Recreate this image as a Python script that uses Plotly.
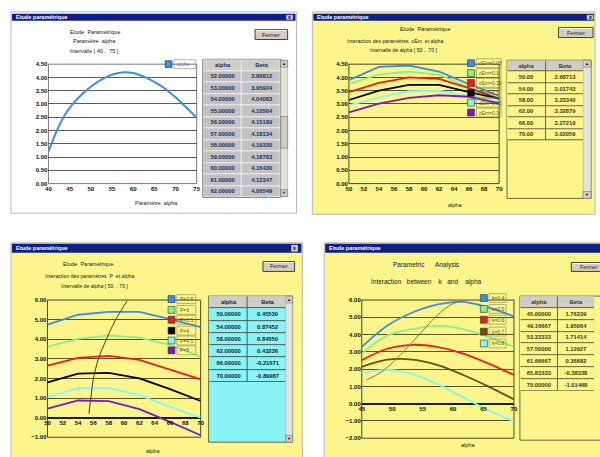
import plotly.graph_objects as go

W, H = 600, 457
FONT = "Liberation Sans"

# ---------------- DATA ----------------
# Panel 1 : Etude paramétrique, paramètre alpha [40..75]
p1_alpha = [40, 42, 44, 46, 48, 50, 52, 53, 54, 55, 56, 57, 58, 59, 60, 61, 62, 64, 66, 68, 70, 72, 75]
p1_beta = [1.20, 2.00, 2.62, 3.05, 3.38, 3.65, 3.86812, 3.95924, 4.04083, 4.10504, 4.15189, 4.18134,
           4.19330, 4.18763, 4.16430, 4.12347, 4.06549, 3.92, 3.74, 3.52, 3.25, 2.95, 2.48]
p1_xticks = [40, 45, 50, 55, 60, 65, 70, 75]
p1_table_alpha = [52, 53, 54, 55, 56, 57, 58, 59, 60, 61, 62]
p1_table_beta = [3.86812, 3.95924, 4.04083, 4.10504, 4.15189, 4.18134, 4.19330, 4.18763, 4.16430, 4.12347, 4.06549]

# Panel 2 : interaction cEm / alpha
p2_alpha = [50, 54, 58, 62, 66, 70]
p2_names = ["cEm=0.05", "cEm=0.1", "cEm=0.15", "cEm=0.2", "cEm=0.25", "cEm=0.3"]
p2_series = [
    [3.90, 4.40, 4.45, 4.22, 3.75, 3.30],
    [3.75, 4.12, 4.22, 4.10, 3.62, 3.20],
    [3.45, 3.80, 4.00, 3.95, 3.60, 3.20],
    [3.15, 3.50, 3.72, 3.72, 3.45, 3.20],
    [2.95, 3.25, 3.48, 3.50, 3.30, 3.10],
    [2.68713, 3.01743, 3.23340, 3.32879, 3.27219, 3.02059],
]
p2_xticks = [50, 52, 54, 56, 58, 60, 62, 64, 66, 68, 70]
p2_table_alpha = [50, 54, 58, 62, 66, 70]
p2_table_beta = [2.68713, 3.01743, 3.23340, 3.32879, 3.27219, 3.02059]

# Panel 3 : interaction P / alpha
p3_alpha = [50, 54, 58, 62, 66, 70]
p3_names = ["P=2.5", "P=3", "P=3.5", "P=4", "P=4.5", "P=5"]
p3_series = [
    [4.75, 5.25, 5.40, 5.40, 5.03, 4.62],
    [3.62, 4.02, 4.20, 4.08, 3.70, 3.12],
    [2.65, 3.05, 3.15, 2.95, 2.45, 1.95],
    [1.80, 2.25, 2.28, 2.00, 1.45, 0.85],
    [1.05, 1.50, 1.50, 1.15, 0.55, 0.00],
    [0.45530, 0.87452, 0.84550, 0.43236, -0.21671, -0.89987],
]
p3_locus_x = [55.4, 55.7, 56.0, 56.65, 57.7, 58.9, 60.4]
p3_locus_y = [0.2, 1.1, 2.0, 3.0, 4.0, 5.0, 5.95]
p3_xticks = [50, 52, 54, 56, 58, 60, 62, 64, 66, 68, 70]
p3_table_alpha = [50, 54, 58, 62, 66, 70]
p3_table_beta = [0.45530, 0.87452, 0.84550, 0.43236, -0.21671, -0.89987]

# Panel 4 : interaction k / alpha
p4_alpha = [45, 49.16667, 53.33333, 57.5, 61.66667, 65.83333, 70]
p4_names = ["k=0.4", "k=0.5", "k=0.6", "k=0.7", "k=0.8"]
p4_series = [
    [3.28, 4.51, 5.28, 5.75, 5.89, 5.56, 5.05],
    [2.90, 3.94, 4.32, 4.51, 4.32, 3.85, 3.28],
    [2.51, 3.18, 3.41, 3.28, 2.90, 2.32, 1.66],
    [2.13, 2.55, 2.55, 2.23, 1.66, 0.99, 0.25],
    [1.76239, 1.95064, 1.71414, 1.12927, 0.36682, -0.38338, -1.01468],
]
p4_locus_x = [45.8, 48.3, 51.0, 53.8, 56.5, 59.3, 61.6]
p4_locus_y = [1.37, 1.85, 2.7, 3.75, 4.8, 5.66, 6.0]
p4_xticks = [45, 50, 55, 60, 65, 70]
p4_table_alpha = [45, 49.16667, 53.33333, 57.5, 61.66667, 65.83333, 70]
p4_table_beta = [1.76239, 1.95064, 1.71414, 1.12927, 0.36682, -0.38338, -1.01468]

table_header = ["alpha", "Beta"]

# ---------------- STYLE ----------------
BLUE = "#3a8ee6"
GREEN = "#86f08a"
RED = "#f01c1c"
BLACK = "#000000"
CYAN = "#86f6f0"
PURPLE = "#7a18c8"
BROWN = "#7a4808"
YELLOW = "#fbf58c"
CYAN_BG = "#8af4f4"
NAVY = "#0e2088"
GRAYBTN = "#d0cdc4"
GRID_Y = "#56522a"

p2_colors = [BLUE, GREEN, RED, BLACK, CYAN, PURPLE]
p3_colors = [BLUE, GREEN, RED, BLACK, CYAN, PURPLE]
p4_colors = [BLUE, GREEN, RED, BROWN, CYAN]


def X(px):
    return min(max(px / W, 0), 1)


def Y(py):
    return min(max(1 - py / H, 0), 1)


shapes = []
annotations = []


def rect(x0, y0, x1, y1, fill="rgba(0,0,0,0)", line=None, lw=1, layer="below"):
    shapes.append(dict(type="rect", xref="paper", yref="paper", x0=x0 / W, x1=x1 / W, y0=1 - y1 / H, y1=1 - y0 / H,
                       fillcolor=fill, line=dict(color=line or "rgba(0,0,0,0)", width=lw if line else 0),
                       layer=layer))


def hline(x0, x1, y, color, lw=1, layer="below"):
    shapes.append(dict(type="line", xref="paper", yref="paper", x0=x0 / W, x1=x1 / W, y0=1 - y / H, y1=1 - y / H,
                       line=dict(color=color, width=lw), layer=layer))


def text(x, y, s, size=6, color="#202020", anchor="center", bold=False, fam=FONT):
    annotations.append(dict(xref="paper", yref="paper", x=x / W, y=1 - y / H, text=s, showarrow=False,
                            xanchor=anchor, yanchor="middle",
                            font=dict(size=size, color=color, family=fam, weight="bold" if bold else "normal")))


def window(x0, y0, x1, y1, bg, tb_y0, tb_y1, close_x=None):
    rect(x0, y0, x1, y1, fill=bg, line="#b8b8b8", lw=1)
    rect(x0 + 1, tb_y0, x1 - 1, tb_y1, fill=NAVY)
    text(x0 + 3, (tb_y0 + tb_y1) / 2, "Etude paramétrique", size=5.5, color="white", anchor="left", bold=True)
    if close_x is not None:
        rect(close_x, tb_y0 + 1.5, close_x + 6, tb_y1 - 1.5, fill="#c8c8c8", line="#ffffff", lw=0.5)
        text(close_x + 3, (tb_y0 + tb_y1) / 2, "x", size=5, color="#000", bold=True)


def button(x0, y0, x1, y1):
    rect(x0, y0, x1, y1, fill=GRAYBTN, line="#404040", lw=1)
    hline(x0 + 1, x1 - 1, y0 + 1, "#ffffff", 1)
    text((x0 + x1) / 2, (y0 + y1) / 2, "Fermer", size=5.5, color="#202020")


def scrollbar(x0, y0, x1, y1, thumb=None):
    rect(x0, y0, x1, y1, fill="#e4e2dc", line="#9a9a9a", lw=0.5)
    rect(x0, y0, x1, y0 + 7, fill=GRAYBTN, line="#606060", lw=0.5)
    rect(x0, y1 - 7, x1, y1, fill=GRAYBTN, line="#606060", lw=0.5)
    text((x0 + x1) / 2, y0 + 3.5, "▲", size=4, color="#000")
    text((x0 + x1) / 2, y1 - 3.5, "▼", size=4, color="#000")
    if thumb:
        rect(x0, thumb[0], x1, thumb[1], fill=GRAYBTN, line="#606060", lw=0.5)


def legend(xsq, ys, names, colors, label_w, color="#5a5a20"):
    for yy, nm, c in zip(ys, names, colors):
        rect(xsq + 9, yy - 4.5, xsq + 9 + label_w, yy + 4.5, fill="rgba(0,0,0,0)", line="#8a8650", lw=0.6,
             layer="above")
        rect(xsq, yy - 3.5, xsq + 7, yy + 3.5, fill=c, line="#303030", lw=0.6, layer="above")
        text(xsq + 10, yy, nm, size=5, color=color, anchor="left")


# ---------------- WINDOWS ----------------
window(8, 9, 297, 213, "#ffffff", 11, 18, close_x=287)
window(313, 9, 599, 214, YELLOW, 11, 18, close_x=591)
window(8, 243, 303, 470, YELLOW, 244, 253, close_x=292)
window(325, 243, 620, 470, YELLOW, 244, 253)

button(255, 27, 288, 37)
button(562, 25, 597, 35)
button(263, 262, 295, 272)
button(575, 263, 610, 272)

text(93, 29, "Etude  Paramétrique", 5.5)
text(93, 39, "Paramètre  alpha", 5.5)
text(93, 49, "Intervalle [ 40 .. 75 ]", 5.5)
text(427, 26, "Etude  Paramétrique", 5.5)
text(397, 38, "Interaction des paramètres  cEm  et alpha", 5.2)
text(405, 48, "Intervalle de alpha [ 50 .. 70 ]", 5.2)
text(86, 264, "Etude  Paramétrique", 5.5)
text(88, 277, "Interaction des paramètres  P  et alpha", 5.2)
text(93, 287, "Intervalle de alpha [ 50 .. 70 ]", 5.2)
text(428, 265, "Parametric      Analysis", 6.5)
text(428, 283, "Interaction   between    k   and    alpha", 6.5)

text(155, 203, "Paramètre  alpha", 5.5)
text(457, 205, "alpha", 5.5)
text(152, 454, "alpha", 5.5)
text(470, 448, "alpha", 5.5)

rect(46, 62, 196, 183, fill="#ffffff")

# table frames (background + border)
rect(202, 57, 281, 197, fill="#f2f2f2", line="#808080", lw=1)
rect(510, 58, 595, 198, fill=YELLOW, line="#6a6640", lw=1)
rect(208, 297, 293, 445, fill=CYAN_BG, line="#6a6640", lw=1)
rect(523, 297, 605, 443, fill=YELLOW, line="#6a6640", lw=1)
# grid-line colour under table cells
rect(511, 59, 587, 139, fill="#6a6640")
rect(209, 298, 286, 384, fill="#4a5a5a")
rect(524, 298, 598, 393, fill="#6a6640")
scrollbar(281, 58, 288, 196, thumb=(115, 147))
scrollbar(587, 58, 595, 198)
scrollbar(286, 297, 293, 445)

legend(164, [62], ["alpha"], [BLUE], 22, color="#6080c0")
legend(470, [61, 71, 81, 91, 101, 111], p2_names, p2_colors, 25)
legend(167, [300, 311, 321, 332, 342, 352], p3_names, p3_colors, 19)
legend(483, [299, 310, 321, 333, 345], p4_names, p4_colors, 17)

# ---------------- TRACES ----------------
fig = go.Figure()

fig.add_trace(go.Scatter(x=p1_alpha, y=p1_beta, mode="lines", line=dict(color=BLUE, width=2, shape="spline"),
                         xaxis="x", yaxis="y", showlegend=False, name="alpha"))
for nm, c, ys in zip(p2_names, p2_colors, p2_series):
    fig.add_trace(go.Scatter(x=p2_alpha, y=ys, mode="lines", line=dict(color=c, width=1.8),
                             xaxis="x2", yaxis="y2", showlegend=False, name=nm))
for nm, c, ys in zip(p3_names, p3_colors, p3_series):
    fig.add_trace(go.Scatter(x=p3_alpha, y=ys, mode="lines", line=dict(color=c, width=1.8),
                             xaxis="x3", yaxis="y3", showlegend=False, name=nm))
fig.add_trace(go.Scatter(x=p3_locus_x, y=p3_locus_y, mode="lines", line=dict(color="#4a3c10", width=1, shape="spline"),
                         xaxis="x3", yaxis="y3", showlegend=False))
for nm, c, ys in zip(p4_names, p4_colors, p4_series):
    fig.add_trace(go.Scatter(x=p4_alpha, y=ys, mode="lines", line=dict(color=c, width=1.8, shape="spline"),
                             xaxis="x4", yaxis="y4", showlegend=False, name=nm))
fig.add_trace(go.Scatter(x=p4_locus_x, y=p4_locus_y, mode="lines", line=dict(color="#8a7a30", width=1, shape="spline"),
                         xaxis="x4", yaxis="y4", showlegend=False))


# tables drawn as heatmap grids (header row + data rows)
def table(alpha, beta, afmt, axn, cell_fill, head_fill, txt_color, size=5.8):
    n = len(alpha)
    z = [[1, 1]] + [[0, 0] for _ in range(n)]
    txt = [[f"<b>{table_header[0]}</b>", f"<b>{table_header[1]}</b>"]] + \
          [[f"<b>{a:{afmt}}</b>", f"<b>{b:.5f}</b>"] for a, b in zip(alpha, beta)]
    fig.add_trace(go.Heatmap(
        z=z, x=[0, 1], y=list(range(n + 1)), text=txt, texttemplate="%{text}",
        textfont=dict(size=size, color=txt_color, family=FONT),
        colorscale=[[0, cell_fill], [1, head_fill]], zmin=0, zmax=1, showscale=False,
        xgap=1, ygap=1, hoverinfo="skip", xaxis="x" + axn, yaxis="y" + axn))


table(p1_table_alpha, p1_table_beta, ".5f", "5", "#c2c2c2", "#cfcdc6", "#1a2a60")
table(p2_table_alpha, p2_table_beta, ".2f", "6", YELLOW, "#cfcdc6", "#3a3a10")
table(p3_table_alpha, p3_table_beta, ".5f", "7", CYAN_BG, "#cfcdc6", "#102030")
table(p4_table_alpha, p4_table_beta, ".5f", "8", YELLOW, "#cfcdc6", "#3a3a10")

# ---------------- AXES ----------------
tickfont = dict(size=6, color="#101010", family=FONT, weight="bold")


def xax(domain, rng, ticks, anchor, position=None):
    d = dict(domain=domain, range=rng, tickvals=ticks, showgrid=False, zeroline=False, showline=False,
             ticks="", tickfont=tickfont, fixedrange=True)
    if position is None:
        d["anchor"] = anchor
    else:
        d["anchor"] = "free"
        d["position"] = position
    return d


def yax(domain, rng, dtick, anchor, grid, zero=False):
    return dict(domain=domain, range=rng, dtick=dtick, tickformat=".2f", showgrid=True, gridcolor=grid,
                gridwidth=1, zeroline=zero, zerolinecolor="#1a1a08", zerolinewidth=2, showline=False,
                ticks="", tickfont=tickfont, anchor=anchor, fixedrange=True)


def hidden(domain, rng, anchor):
    return dict(domain=domain, range=rng, visible=False, showgrid=False, zeroline=False, anchor=anchor,
                fixedrange=True)


d1y = [Y(183), Y(62)]
d2y = [Y(183), Y(62)]
d3y = [Y(440), Y(301)]
d4y = [Y(441), Y(301)]

pos3 = d3y[0] + (0 - (-1)) / 7 * (d3y[1] - d3y[0])
pos4 = d4y[0] + (0 - (-2)) / 8 * (d4y[1] - d4y[0])

layout = dict(
    width=W, height=H, margin=dict(l=0, r=0, t=0, b=0), paper_bgcolor="#ffffff",
    plot_bgcolor="rgba(0,0,0,0)", showlegend=False,
    xaxis=xax([X(46), X(196)], [40, 75], p1_xticks, "y"),
    yaxis=yax(d1y, [0, 4.5], 0.5, "x", "#5a5a5a"),
    xaxis2=xax([X(350), X(502)], [50, 70], p2_xticks, "y2"),
    yaxis2=yax(d2y, [0, 4.5], 0.5, "x2", GRID_Y),
    xaxis3=xax([X(45), X(200)], [50, 70], p3_xticks, "y3", position=pos3),
    yaxis3=yax(d3y, [-1, 6], 1, "x3", GRID_Y, zero=True),
    xaxis4=xax([X(363), X(517)], [45, 70], p4_xticks, "y4", position=pos4),
    yaxis4=yax(d4y, [-2, 6], 1, "x4", GRID_Y, zero=True),
    xaxis5=hidden([X(202), X(281)], [-0.5, 1.5], "y5"),
    yaxis5=hidden([Y(197), Y(57)], [len(p1_table_alpha) + 0.5, -0.5], "x5"),
    xaxis6=hidden([X(510), X(588)], [-0.5, 1.5], "y6"),
    yaxis6=hidden([Y(139), Y(58)], [len(p2_table_alpha) + 0.5, -0.5], "x6"),
    xaxis7=hidden([X(208), X(287)], [-0.5, 1.5], "y7"),
    yaxis7=hidden([Y(384), Y(297)], [len(p3_table_alpha) + 0.5, -0.5], "x7"),
    xaxis8=hidden([X(523), X(599)], [-0.5, 1.5], "y8"),
    yaxis8=hidden([Y(393), Y(297)], [len(p4_table_alpha) + 0.5, -0.5], "x8"),
    font=dict(family=FONT),
)
fig.update_layout(**layout)

for xr, yr, col in [("x", "y", "#7a7a7a"), ("x2", "y2", "#4a4620"), ("x3", "y3", "#4a4620"), ("x4", "y4", "#4a4620")]:
    shapes.append(dict(type="rect", xref=xr + " domain", yref=yr + " domain", x0=0, x1=1, y0=0, y1=1,
                       line=dict(color=col, width=1), fillcolor="rgba(0,0,0,0)", layer="below"))

fig.update_layout(shapes=shapes, annotations=annotations)

fig.write_html("out.html", config=dict(displayModeBar=False, staticPlot=True),
               post_script="document.body.style.margin='0';document.body.style.overflow='hidden';")
